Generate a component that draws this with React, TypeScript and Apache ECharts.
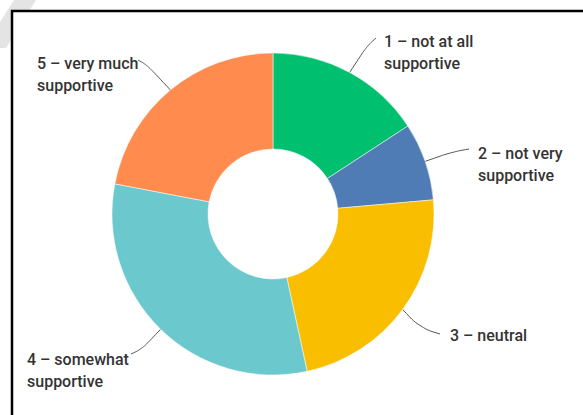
import React, { useEffect, useRef } from "react";
import * as echarts from "echarts";

const categories = [
  "1 – not at all\nsupportive",
  "2 – not very\nsupportive",
  "3 – neutral",
  "4 – somewhat\nsupportive",
  "5 – very much\nsupportive",
];
const values = [15.8, 7.8, 23.0, 31.4, 22.0];
const colors = ["#00BF6F", "#507CB6", "#F9BE00", "#6BC8CD", "#FF8B4F"];

// label placement (layout only)
const labelPlaces = [
  { x: 384, y: 52, bend: [367, 46], end: [376, 38] },
  { x: 478, y: 164, bend: [452, 152], end: [469, 149] },
  { x: 450, y: 335, bend: [420, 328], end: [440, 334] },
  { x: 27, y: 370, bend: [142, 349], end: [131, 354] },
  { x: 37, y: 74, bend: [147, 65], end: [138, 60] },
];

export default function App() {
  const ref = useRef<HTMLDivElement>(null);
  useEffect(() => {
    if (!ref.current) return;
    const chart = echarts.init(ref.current, null, { renderer: "svg" });
    chart.setOption({
      animation: false,
      backgroundColor: "#ffffff",
      graphic: [
        {
          type: "polygon",
          z: -10,
          shape: { points: [[14, 0], [36, 0], [6, 48], [0, 48], [0, 22]] },
          style: { fill: "#e4e4e4" },
        },
        {
          type: "rect",
          z: -5,
          shape: { x: 12, y: 11, width: 620, height: 430 },
          style: { fill: "#ffffff", stroke: "#000000", lineWidth: 2.5 },
        },
      ],
      series: [
        {
          type: "pie",
          center: [273, 214],
          radius: [65, 161],
          startAngle: 90,
          clockwise: true,
          avoidLabelOverlap: false,
          itemStyle: { borderColor: "#ffffff", borderWidth: 0.5 },
          label: {
            show: true,
            position: "outside",
            formatter: "{b}",
            color: "#333333",
            fontFamily: "Roboto",
            fontWeight: 500,
            fontSize: 16,
            lineHeight: 22,
          },
          labelLine: {
            show: true,
            smooth: 0.4,
            length: 15,
            length2: 10,
            lineStyle: { color: "#555555", width: 1 },
          },
          labelLayout: (p: any) => {
            const c = labelPlaces[p.dataIndex];
            const pts = p.labelLinePoints;
            const start = pts && pts[0] ? pts[0] : c.bend;
            return {
              x: c.x,
              y: c.y,
              align: "left",
              verticalAlign: "middle",
              labelLinePoints: [start, c.bend, c.end],
            };
          },
          data: categories.map((name, i) => ({
            name,
            value: values[i],
            itemStyle: { color: colors[i] },
          })),
        },
      ],
    });
    return () => chart.dispose();
  }, []);
  return (
    <div
      ref={ref}
      style={{ position: "absolute", left: 0, top: 0, width: 583, height: 415 }}
    />
  );
}
